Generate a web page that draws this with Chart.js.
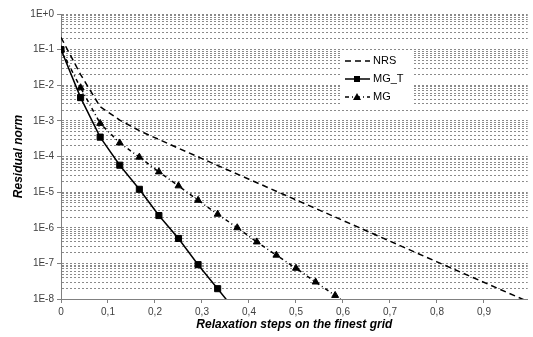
<!DOCTYPE html>
<html>
<head>
<meta charset="utf-8">
<script src="https://cdn.jsdelivr.net/npm/chart.js@4/dist/chart.umd.min.js"></script>
<style>
body{margin:0;background:#fff}
</style>
</head>
<body>
<canvas id="residualChart" width="533" height="337"></canvas>
<script>
// values (x = fraction of relaxation steps)
const nrsSteps = [0, 0.0417, 0.0833, 0.125, 0.1667, 0.25, 0.4, 0.6, 0.8, 1.0];
const nrsValues = [2.2e-1, 2.0e-2, 2.5e-3, 1.05e-3, 5.3e-4, 1.7e-4, 2.3e-5, 1.6e-6, 1.1e-7, 7.8e-9];

const mgtSteps = [0, 0.0417, 0.0833, 0.125, 0.1667, 0.2083, 0.25, 0.2917, 0.3333, 0.375];
const mgtValues = [1e-1, 4.5e-3, 3.5e-4, 5.7e-5, 1.2e-5, 2.2e-6, 5e-7, 9.2e-8, 1.95e-8, 4e-9];

const mgSteps = [0, 0.0417, 0.0833, 0.125, 0.1667, 0.2083, 0.25, 0.2917, 0.3333, 0.375, 0.4167, 0.4583, 0.5, 0.5417, 0.5833, 0.625];
const mgValues = [1e-1, 8.5e-3, 8.5e-4, 2.4e-4, 9.6e-5, 3.7e-5, 1.5e-5, 5.9e-6, 2.4e-6, 1e-6, 4e-7, 1.7e-7, 7.3e-8, 3e-8, 1.26e-8, 5e-9];

const xTickValues = [0, 0.1, 0.2, 0.3, 0.4, 0.5, 0.6, 0.7, 0.8, 0.9];
const xTickLabels = ['0', '0,1', '0,2', '0,3', '0,4', '0,5', '0,6', '0,7', '0,8', '0,9'];
const yDecades = [1e-8, 1e-7, 1e-6, 1e-5, 1e-4, 1e-3, 1e-2, 1e-1, 1];
const yTickLabels = ['1E-8', '1E-7', '1E-6', '1E-5', '1E-4', '1E-3', '1E-2', '1E-1', '1E+0'];

const FONT = "'Liberation Sans', Arial, sans-serif";

// all log gridlines: 1..9 x each decade
const yGridValues = [];
yDecades.forEach((d, i) => {
    if (i === yDecades.length - 1) { yGridValues.push(d); return; }
    for (let k = 1; k < 10; k++) yGridValues.push(+(k * d).toPrecision(3));
});

function decadeIndex(v) {
    return yDecades.findIndex(d => Math.abs(d - v) < d * 1e-6);
}

function pts(xs, ys) {
    return xs.map((x, i) => ({x: x, y: ys[i]}));
}
function radii(xs, r) {
    // last point sits below the axis, the line just runs out of the plot
    return xs.map((_, i) => i < xs.length - 1 ? r : 0);
}

const insideLegend = {
    id: 'insideLegend',
    afterDraw(chart) {
        const ctx = chart.ctx;
        ctx.save();
        ctx.fillStyle = '#fff';
        ctx.fillRect(341, 50, 72, 56);
        chart.data.datasets.forEach((ds, i) => {
            const y = 61 + i * 18;
            ctx.strokeStyle = '#000';
            ctx.lineWidth = 1.5;
            ctx.setLineDash(ds.borderDash || []);
            ctx.beginPath();
            ctx.moveTo(345, y);
            ctx.lineTo(370, y);
            ctx.stroke();
            ctx.setLineDash([]);
            ctx.fillStyle = '#000';
            if (ds.pointStyle === 'rect') {
                ctx.fillRect(354, y - 3, 6, 6);
            } else if (ds.pointStyle === 'triangle') {
                ctx.beginPath();
                ctx.moveTo(357, y - 4);
                ctx.lineTo(361, y + 3);
                ctx.lineTo(353, y + 3);
                ctx.closePath();
                ctx.fill();
            }
            ctx.font = '11px ' + FONT;
            ctx.textBaseline = 'middle';
            ctx.textAlign = 'left';
            ctx.fillText(ds.label, 373, y);
        });
        ctx.restore();
    }
};

new Chart(document.getElementById('residualChart'), {
    type: 'line',
    data: {
        datasets: [{
            label: 'NRS',
            data: pts(nrsSteps, nrsValues),
            borderColor: '#000',
            borderWidth: 1.5,
            borderDash: [6, 4],
            pointRadius: 0,
            pointStyle: false
        }, {
            label: 'MG_T',
            data: pts(mgtSteps, mgtValues),
            borderColor: '#000',
            backgroundColor: '#000',
            borderWidth: 1.5,
            pointStyle: 'rect',
            pointRadius: radii(mgtSteps, 4.3),
            pointBorderWidth: 1
        }, {
            label: 'MG',
            data: pts(mgSteps, mgValues),
            borderColor: '#000',
            backgroundColor: '#000',
            borderWidth: 1.5,
            borderDash: [4, 3, 1, 3],
            pointStyle: 'triangle',
            pointRadius: radii(mgSteps, 4),
            pointBorderWidth: 1
        }]
    },
    options: {
        responsive: false,
        animation: false,
        layout: {padding: {top: 14, right: 0, left: 0, bottom: 0}},
        plugins: {
            legend: {display: false},
            tooltip: {enabled: false}
        },
        scales: {
            x: {
                type: 'linear',
                min: 0,
                max: 0.993,
                afterBuildTicks: s => { s.ticks = xTickValues.map(v => ({value: v})); },
                afterFit: s => { s.height = 38; },
                ticks: {
                    autoSkip: false,
                    maxRotation: 0,
                    padding: 3,
                    color: '#404040',
                    font: {family: FONT, size: 10},
                    callback: (v, i) => xTickLabels[i]
                },
                grid: {drawOnChartArea: false, tickLength: 4, color: '#808080'},
                border: {color: '#808080', width: 1},
                title: {
                    display: true,
                    text: 'Relaxation steps on the finest grid',
                    color: '#000',
                    font: {family: FONT, size: 12, weight: 'bold', style: 'italic'},
                    padding: {top: 0, bottom: 5}
                }
            },
            y: {
                type: 'logarithmic',
                min: 1e-8,
                max: 1,
                afterBuildTicks: s => { s.ticks = yGridValues.map(v => ({value: v})); },
                afterFit: s => { s.width = 61; },
                ticks: {
                    autoSkip: false,
                    padding: 3,
                    color: '#404040',
                    font: {family: FONT, size: 10},
                    callback: v => {
                        const i = decadeIndex(v);
                        return i >= 0 ? yTickLabels[i] : '';
                    }
                },
                grid: {
                    color: '#8a8a8a',
                    lineWidth: 1,
                    tickLength: 4,
                    tickColor: c => (c.tick && decadeIndex(c.tick.value) >= 0) ? '#808080' : 'rgba(0,0,0,0)'
                },
                border: {display: true, color: '#808080', width: 1, dash: [2, 2]},
                title: {
                    display: true,
                    text: 'Residual norm',
                    color: '#000',
                    font: {family: FONT, size: 12, weight: 'bold', style: 'italic'},
                    padding: {top: 11, bottom: 0}
                }
            }
        }
    },
    plugins: [insideLegend]
});
</script>
</body>
</html>
